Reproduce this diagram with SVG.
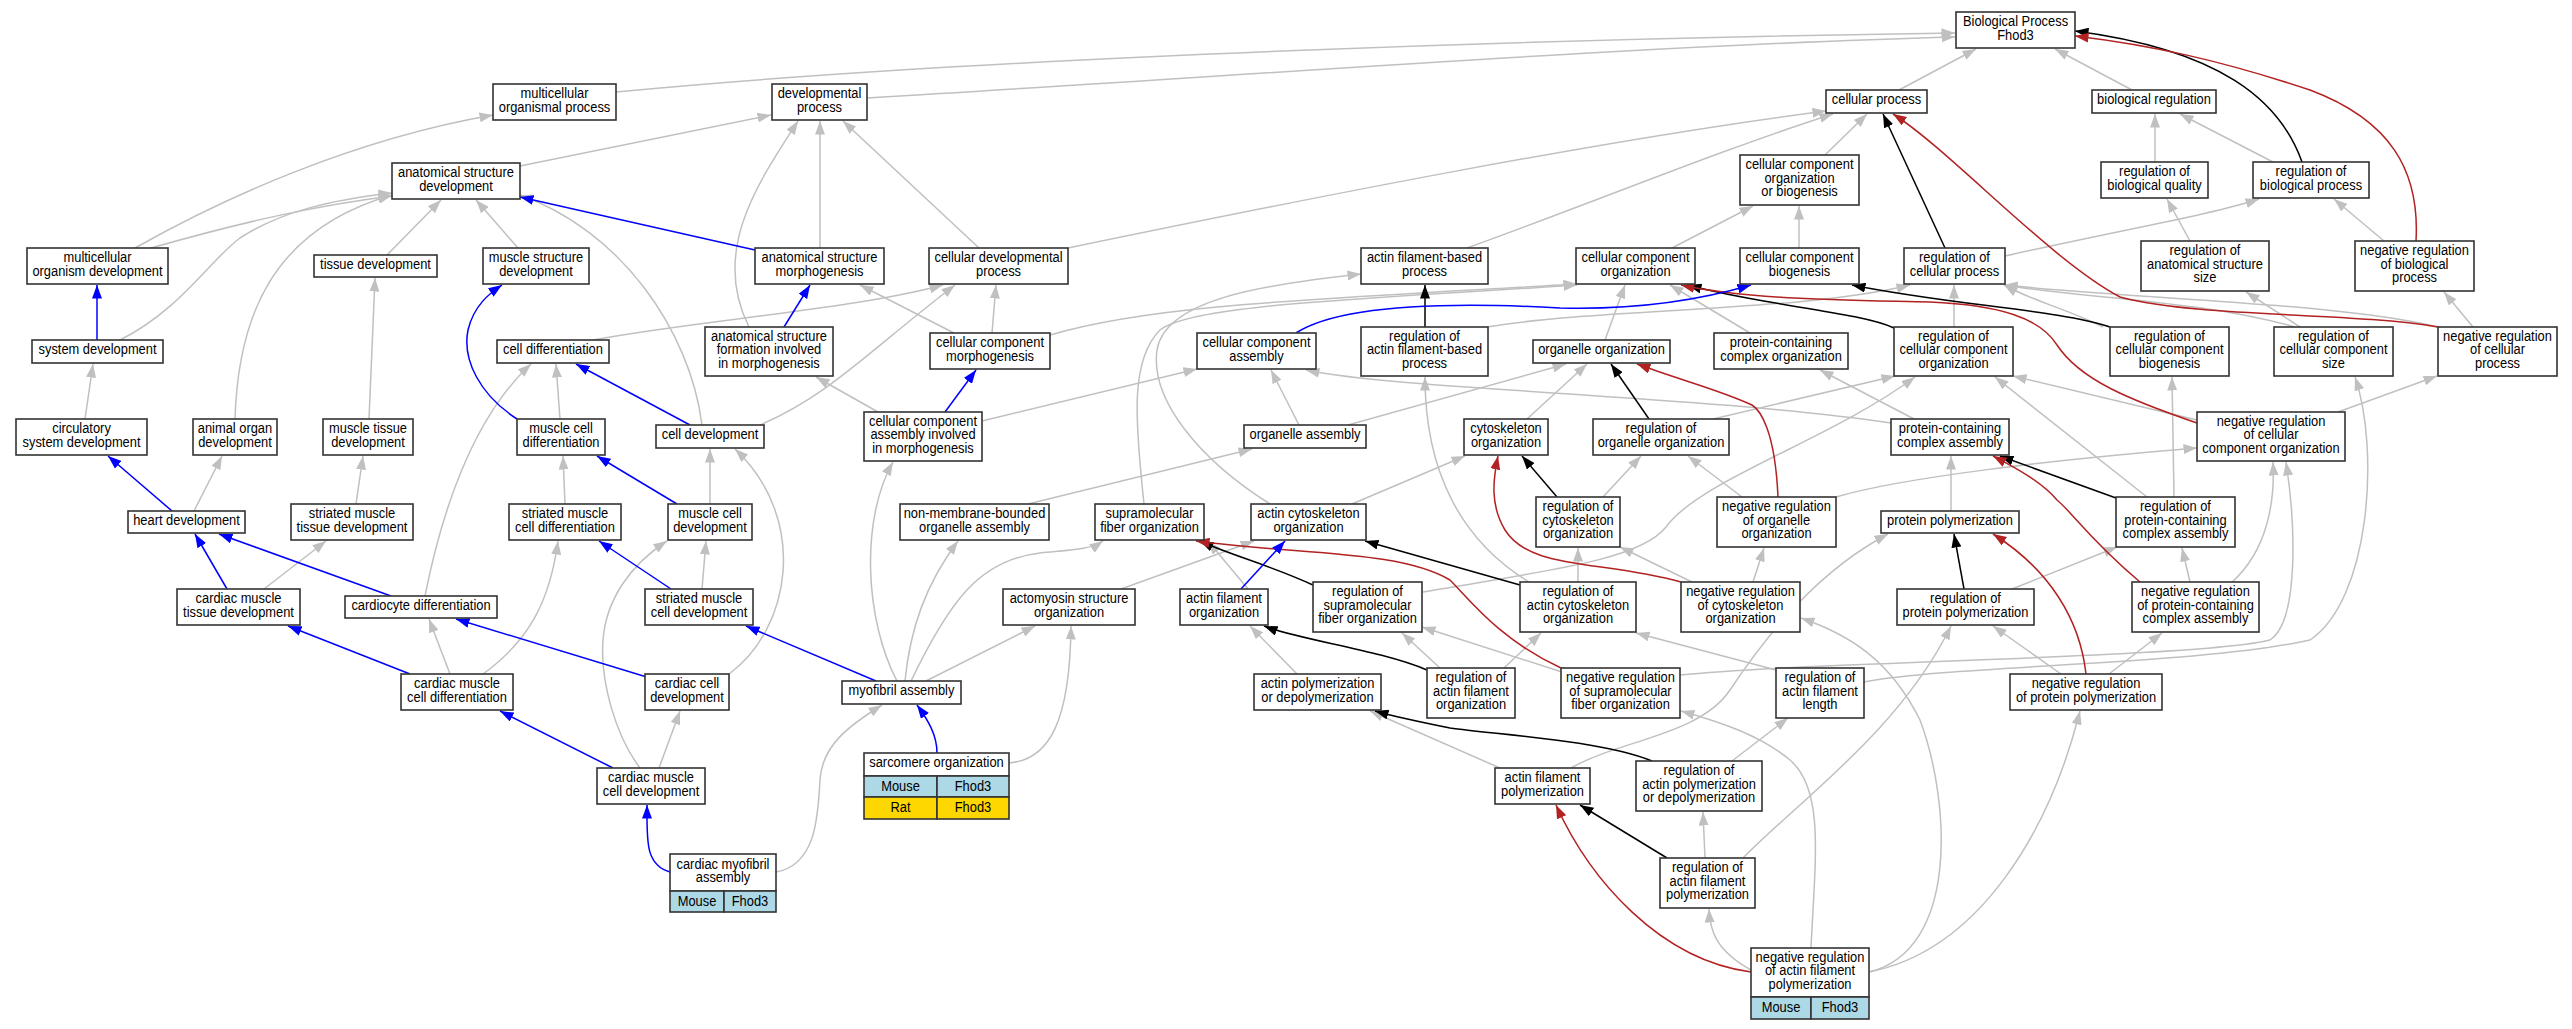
<svg xmlns="http://www.w3.org/2000/svg" width="2572" height="1029" viewBox="0 0 2572 1029">
<style>
.n rect{fill:#fff;stroke:#333;stroke-width:1.6}
.n rect.m{fill:#add8e6}
.n rect.y{fill:#ffd700}
text{font-family:"Liberation Sans",Arial,sans-serif;font-size:14px;text-anchor:middle;fill:#000;transform-box:fill-box;transform-origin:center;transform:scaleX(0.92)}
.e path{fill:none;stroke-width:1.5}
.e .g{stroke:#c0c0c0;marker-end:url(#ag)}
.e .b{stroke:#0000ff;marker-end:url(#ab)}
.e .k{stroke:#000;marker-end:url(#ak)}
.e .r{stroke:#b22222;marker-end:url(#ar)}
</style>
<defs>
<marker id="ag" viewBox="0 0 13.5 10" refX="13.5" refY="5" markerWidth="13.5" markerHeight="10" markerUnits="userSpaceOnUse" orient="auto"><path d="M0,0L13.5,5L0,10z" fill="#c0c0c0"/></marker>
<marker id="ab" viewBox="0 0 13.5 10" refX="13.5" refY="5" markerWidth="13.5" markerHeight="10" markerUnits="userSpaceOnUse" orient="auto"><path d="M0,0L13.5,5L0,10z" fill="#0000ff"/></marker>
<marker id="ak" viewBox="0 0 13.5 10" refX="13.5" refY="5" markerWidth="13.5" markerHeight="10" markerUnits="userSpaceOnUse" orient="auto"><path d="M0,0L13.5,5L0,10z" fill="#000"/></marker>
<marker id="ar" viewBox="0 0 13.5 10" refX="13.5" refY="5" markerWidth="13.5" markerHeight="10" markerUnits="userSpaceOnUse" orient="auto"><path d="M0,0L13.5,5L0,10z" fill="#b22222"/></marker>
</defs>
<rect width="2572" height="1029" fill="#fff"/>
<g id="edges" class="e">
<path class="g" d="M616,92 C1000,55 1600,38 1955,33"/>
<path class="g" d="M867,98 C1300,72 1650,45 1955,37"/>
<path class="g" d="M1899,90 L1976,49"/>
<path class="g" d="M2132,90 L2055,49"/>
<path class="g" d="M520,166 L771,115"/>
<path class="g" d="M135,248 C220,200 350,140 493,115"/>
<path class="g" d="M151,248 C250,220 320,205 392,196"/>
<path class="g" d="M120,340 C180,310 210,260 240,238 C280,212 330,200 392,193"/>
<path class="g" d="M235,419 C238,320 270,230 392,195"/>
<path class="g" d="M387,255 L441,200"/>
<path class="g" d="M518,248 L476,200"/>
<path class="g" d="M702,425 C690,330 620,230 520,195"/>
<path class="g" d="M369,419 L375,278"/>
<path class="g" d="M749,327 C710,250 760,180 798,121"/>
<path class="g" d="M820,248 L820,121"/>
<path class="g" d="M979,248 L843,121"/>
<path class="g" d="M1068,248 C1300,200 1600,140 1826,111"/>
<path class="g" d="M954,333 L860,285"/>
<path class="g" d="M992,333 L996,285"/>
<path class="g" d="M593,340 C700,320 850,310 943,285"/>
<path class="g" d="M760,425 C830,395 870,350 955,285"/>
<path class="g" d="M560,419 L556,364"/>
<path class="g" d="M425,596 C440,520 470,420 531,364"/>
<path class="g" d="M85,419 L93,364"/>
<path class="g" d="M194,511 L222,456"/>
<path class="g" d="M356,504 L363,456"/>
<path class="g" d="M264,589 L326,541"/>
<path class="g" d="M483,674 C530,640 550,600 558,541"/>
<path class="g" d="M450,674 L429,619"/>
<path class="g" d="M565,504 L563,456"/>
<path class="g" d="M702,589 L706,541"/>
<path class="g" d="M710,504 L710,449"/>
<path class="g" d="M729,674 C790,630 810,520 735,449"/>
<path class="g" d="M640,768 C615,735 600,680 603,640 C606,600 630,565 667,541"/>
<path class="g" d="M659,768 L680,711"/>
<path class="g" d="M776,872 C815,865 818,820 820,780 C822,745 850,725 882,705"/>
<path class="g" d="M1009,763 C1050,760 1070,720 1071,626"/>
<path class="g" d="M897,681 C865,620 860,520 893,462"/>
<path class="g" d="M905,681 C910,630 925,585 958,541"/>
<path class="g" d="M911,681 C950,600 980,560 1040,553 C1070,550 1090,550 1103,541"/>
<path class="g" d="M926,681 L1035,626"/>
<path class="g" d="M878,412 L816,377"/>
<path class="g" d="M982,421 L1197,369"/>
<path class="g" d="M1028,504 L1252,449"/>
<path class="g" d="M1299,425 L1271,370"/>
<path class="g" d="M1348,425 L1566,364"/>
<path class="g" d="M1891,423 C1700,395 1400,390 1306,370"/>
<path class="g" d="M1914,419 L1820,370"/>
<path class="g" d="M1527,419 L1587,364"/>
<path class="g" d="M1713,419 L1895,376"/>
<path class="g" d="M1529,582 C1460,540 1425,470 1425,377"/>
<path class="g" d="M1352,504 L1465,456"/>
<path class="g" d="M1603,497 L1641,456"/>
<path class="g" d="M1742,497 L1688,456"/>
<path class="g" d="M1692,582 L1620,547"/>
<path class="g" d="M1753,582 L1764,548"/>
<path class="g" d="M1578,582 L1578,548"/>
<path class="g" d="M1423,592 C1550,570 1640,560 1666,527 C1700,480 1830,440 1915,377"/>
<path class="g" d="M1836,497 C1900,478 2050,460 2197,448"/>
<path class="g" d="M2197,420 L2013,376"/>
<path class="g" d="M2338,412 L2437,376"/>
<path class="g" d="M2147,497 L1995,377"/>
<path class="g" d="M2174,497 L2172,377"/>
<path class="g" d="M1951,511 L1951,456"/>
<path class="g" d="M2190,582 L2182,548"/>
<path class="g" d="M2232,582 C2268,550 2275,500 2273,462"/>
<path class="g" d="M2012,589 L2117,547"/>
<path class="g" d="M2061,674 L1993,626"/>
<path class="g" d="M2109,674 L2162,633"/>
<path class="g" d="M1571,768 C1620,740 1700,735 1730,690 C1770,630 1820,570 1888,534"/>
<path class="g" d="M1751,970 C1715,950 1710,930 1709,909"/>
<path class="g" d="M1811,948 C1815,860 1825,790 1790,760 C1760,735 1720,722 1681,711"/>
<path class="g" d="M1869,972 C1960,950 1950,800 1920,720 C1890,660 1850,635 1801,618"/>
<path class="g" d="M1869,972 C1980,950 2050,830 2080,711"/>
<path class="g" d="M1743,858 C1800,800 1900,730 1951,626"/>
<path class="g" d="M1705,858 L1703,812"/>
<path class="g" d="M1732,761 L1788,718"/>
<path class="g" d="M1776,670 L1636,633"/>
<path class="g" d="M1864,682 C1950,665 2200,665 2310,640 C2370,600 2380,450 2355,377"/>
<path class="g" d="M1680,675 C1800,662 2200,658 2270,640 C2300,620 2295,520 2286,462"/>
<path class="g" d="M1500,768 L1370,711"/>
<path class="g" d="M1297,674 L1250,626"/>
<path class="g" d="M1504,668 L1541,633"/>
<path class="g" d="M1440,668 L1402,633"/>
<path class="g" d="M1562,672 L1422,627"/>
<path class="g" d="M1248,589 L1208,541"/>
<path class="g" d="M1121,589 L1254,541"/>
<path class="g" d="M1825,155 L1867,114"/>
<path class="g" d="M1672,248 L1753,206"/>
<path class="g" d="M1799,248 L1799,206"/>
<path class="g" d="M1605,340 L1625,285"/>
<path class="g" d="M1750,333 L1670,285"/>
<path class="g" d="M1467,248 C1600,200 1720,150 1833,114"/>
<path class="g" d="M1487,327 C1600,308 1800,312 1910,285"/>
<path class="g" d="M1954,327 L1954,285"/>
<path class="g" d="M2103,327 C2070,310 2030,300 2004,285"/>
<path class="g" d="M2295,327 C2200,300 2080,298 2004,285"/>
<path class="g" d="M2438,327 C2340,303 2150,300 2004,285"/>
<path class="g" d="M2155,162 L2155,114"/>
<path class="g" d="M2273,162 L2180,114"/>
<path class="g" d="M2005,256 C2120,230 2210,215 2259,199"/>
<path class="g" d="M2190,241 L2167,199"/>
<path class="g" d="M2384,241 L2334,199"/>
<path class="g" d="M2473,327 L2444,292"/>
<path class="g" d="M2300,327 L2246,292"/>
<path class="g" d="M1050,335 C1150,305 1300,300 1577,284"/>
<path class="g" d="M1144,504 C1135,420 1130,360 1160,330 C1190,305 1350,300 1577,285"/>
<path class="g" d="M1270,504 C1200,460 1150,400 1157,350 C1165,300 1260,285 1361,274"/>
<path class="k" d="M2302,162 C2280,100 2220,50 2075,31"/>
<path class="k" d="M1945,248 L1883,114"/>
<path class="k" d="M1894,328 C1860,312 1760,305 1688,285"/>
<path class="k" d="M2110,327 C2060,310 1950,305 1852,285"/>
<path class="k" d="M1425,327 L1425,285"/>
<path class="k" d="M1649,419 L1611,364"/>
<path class="k" d="M1557,497 L1522,456"/>
<path class="k" d="M1520,585 L1365,541"/>
<path class="k" d="M1313,585 C1270,565 1230,555 1200,541"/>
<path class="k" d="M1427,670 C1380,650 1300,640 1264,626"/>
<path class="k" d="M2116,498 L2000,456"/>
<path class="k" d="M1964,589 L1954,534"/>
<path class="k" d="M1652,761 C1600,740 1500,735 1450,728 C1420,722 1400,718 1375,711"/>
<path class="k" d="M1667,858 L1580,805"/>
<path class="r" d="M2416,241 C2420,170 2390,120 2310,90 C2220,60 2150,45 2075,36"/>
<path class="r" d="M2438,327 C2350,312 2200,318 2120,297 C2050,260 1950,150 1893,114"/>
<path class="r" d="M2197,423 C2130,400 2080,380 2057,345 C2040,318 2000,305 1930,302 C1850,300 1750,300 1681,285"/>
<path class="r" d="M1778,497 C1775,430 1760,410 1752,405 C1720,390 1680,380 1637,364"/>
<path class="r" d="M1681,582 C1600,560 1530,570 1505,530 C1490,505 1493,480 1498,456"/>
<path class="r" d="M1561,668 C1500,640 1470,600 1450,580 C1400,550 1300,555 1196,541"/>
<path class="r" d="M2140,582 C2090,540 2070,510 2057,500 C2040,480 2010,465 1993,456"/>
<path class="r" d="M2086,674 C2080,620 2050,570 1993,534"/>
<path class="r" d="M1751,972 C1660,960 1590,880 1556,805"/>
<path class="b" d="M97,340 L97,285"/>
<path class="b" d="M755,250 L520,197"/>
<path class="b" d="M517,419 C480,395 462,360 468,330 C474,305 490,293 502,285"/>
<path class="b" d="M784,327 L810,285"/>
<path class="b" d="M945,412 L976,370"/>
<path class="b" d="M690,425 L576,364"/>
<path class="b" d="M677,504 L597,456"/>
<path class="b" d="M172,511 L108,456"/>
<path class="b" d="M227,589 L195,534"/>
<path class="b" d="M391,596 L219,534"/>
<path class="b" d="M410,674 L288,626"/>
<path class="b" d="M650,678 L456,619"/>
<path class="b" d="M671,589 L599,541"/>
<path class="b" d="M613,768 L500,711"/>
<path class="b" d="M670,872 C645,865 647,840 647,805"/>
<path class="b" d="M937,753 C937,735 928,720 917,705"/>
<path class="b" d="M876,681 L746,626"/>
<path class="b" d="M1296,333 C1340,305 1450,302 1560,308 C1640,310 1700,300 1751,285"/>
<path class="b" d="M1241,589 L1285,541"/>
</g>
<g id="bp" class="n"><rect x="1956" y="12" width="119" height="36"/><text x="2015.5" y="26.25">Biological Process</text><text x="2015.5" y="39.75">Fhod3</text></g>
<g id="mop" class="n"><rect x="493" y="84" width="123" height="36"/><text x="554.5" y="98.25">multicellular</text><text x="554.5" y="111.75">organismal process</text></g>
<g id="dp" class="n"><rect x="772" y="84" width="95" height="36"/><text x="819.5" y="98.25">developmental</text><text x="819.5" y="111.75">process</text></g>
<g id="cp" class="n"><rect x="1826" y="90" width="101" height="23"/><text x="1876.5" y="104.5">cellular process</text></g>
<g id="br" class="n"><rect x="2092" y="90" width="124" height="23"/><text x="2154" y="104.5">biological regulation</text></g>
<g id="asd" class="n"><rect x="392" y="163" width="128" height="36"/><text x="456" y="177.25">anatomical structure</text><text x="456" y="190.75">development</text></g>
<g id="ccob" class="n"><rect x="1740" y="155" width="119" height="50"/><text x="1799.5" y="169.5">cellular component</text><text x="1799.5" y="183">organization</text><text x="1799.5" y="196.5">or biogenesis</text></g>
<g id="rbq" class="n"><rect x="2101" y="162" width="107" height="36"/><text x="2154.5" y="176.25">regulation of</text><text x="2154.5" y="189.75">biological quality</text></g>
<g id="rbp" class="n"><rect x="2253" y="162" width="116" height="36"/><text x="2311" y="176.25">regulation of</text><text x="2311" y="189.75">biological process</text></g>
<g id="mod" class="n"><rect x="27" y="248" width="141" height="36"/><text x="97.5" y="262.25">multicellular</text><text x="97.5" y="275.75">organism development</text></g>
<g id="td" class="n"><rect x="314" y="255" width="123" height="22"/><text x="375.5" y="269">tissue development</text></g>
<g id="msd" class="n"><rect x="483" y="248" width="106" height="36"/><text x="536" y="262.25">muscle structure</text><text x="536" y="275.75">development</text></g>
<g id="asm" class="n"><rect x="755" y="248" width="129" height="36"/><text x="819.5" y="262.25">anatomical structure</text><text x="819.5" y="275.75">morphogenesis</text></g>
<g id="cdp" class="n"><rect x="929" y="248" width="139" height="36"/><text x="998.5" y="262.25">cellular developmental</text><text x="998.5" y="275.75">process</text></g>
<g id="afbp" class="n"><rect x="1361" y="248" width="127" height="36"/><text x="1424.5" y="262.25">actin filament-based</text><text x="1424.5" y="275.75">process</text></g>
<g id="cco" class="n"><rect x="1576" y="248" width="119" height="36"/><text x="1635.5" y="262.25">cellular component</text><text x="1635.5" y="275.75">organization</text></g>
<g id="ccb" class="n"><rect x="1740" y="248" width="119" height="36"/><text x="1799.5" y="262.25">cellular component</text><text x="1799.5" y="275.75">biogenesis</text></g>
<g id="rcp" class="n"><rect x="1904" y="248" width="101" height="36"/><text x="1954.5" y="262.25">regulation of</text><text x="1954.5" y="275.75">cellular process</text></g>
<g id="rass" class="n"><rect x="2141" y="241" width="128" height="50"/><text x="2205" y="255.5">regulation of</text><text x="2205" y="269">anatomical structure</text><text x="2205" y="282.5">size</text></g>
<g id="nrbp" class="n"><rect x="2355" y="241" width="119" height="50"/><text x="2414.5" y="255.5">negative regulation</text><text x="2414.5" y="269">of biological</text><text x="2414.5" y="282.5">process</text></g>
<g id="sd" class="n"><rect x="32" y="340" width="131" height="23"/><text x="97.5" y="354.5">system development</text></g>
<g id="cdiff" class="n"><rect x="497" y="340" width="112" height="23"/><text x="553" y="354.5">cell differentiation</text></g>
<g id="asf" class="n"><rect x="705" y="327" width="128" height="49"/><text x="769" y="341">anatomical structure</text><text x="769" y="354.5">formation involved</text><text x="769" y="368">in morphogenesis</text></g>
<g id="ccm" class="n"><rect x="930" y="333" width="120" height="36"/><text x="990" y="347.25">cellular component</text><text x="990" y="360.75">morphogenesis</text></g>
<g id="ca" class="n"><rect x="1197" y="333" width="119" height="36"/><text x="1256.5" y="347.25">cellular component</text><text x="1256.5" y="360.75">assembly</text></g>
<g id="rafbp" class="n"><rect x="1361" y="327" width="127" height="49"/><text x="1424.5" y="341">regulation of</text><text x="1424.5" y="354.5">actin filament-based</text><text x="1424.5" y="368">process</text></g>
<g id="oo" class="n"><rect x="1533" y="340" width="137" height="23"/><text x="1601.5" y="354.5">organelle organization</text></g>
<g id="pcco" class="n"><rect x="1714" y="333" width="134" height="36"/><text x="1781" y="347.25">protein-containing</text><text x="1781" y="360.75">complex organization</text></g>
<g id="rcco" class="n"><rect x="1894" y="327" width="119" height="49"/><text x="1953.5" y="341">regulation of</text><text x="1953.5" y="354.5">cellular component</text><text x="1953.5" y="368">organization</text></g>
<g id="rccb" class="n"><rect x="2110" y="327" width="119" height="49"/><text x="2169.5" y="341">regulation of</text><text x="2169.5" y="354.5">cellular component</text><text x="2169.5" y="368">biogenesis</text></g>
<g id="rccs" class="n"><rect x="2274" y="327" width="119" height="49"/><text x="2333.5" y="341">regulation of</text><text x="2333.5" y="354.5">cellular component</text><text x="2333.5" y="368">size</text></g>
<g id="nrcp" class="n"><rect x="2438" y="327" width="119" height="49"/><text x="2497.5" y="341">negative regulation</text><text x="2497.5" y="354.5">of cellular</text><text x="2497.5" y="368">process</text></g>
<g id="csd" class="n"><rect x="16" y="419" width="131" height="36"/><text x="81.5" y="433.25">circulatory</text><text x="81.5" y="446.75">system development</text></g>
<g id="aod" class="n"><rect x="193" y="419" width="84" height="36"/><text x="235" y="433.25">animal organ</text><text x="235" y="446.75">development</text></g>
<g id="mtd" class="n"><rect x="323" y="419" width="90" height="36"/><text x="368" y="433.25">muscle tissue</text><text x="368" y="446.75">development</text></g>
<g id="mcdiff" class="n"><rect x="517" y="419" width="88" height="36"/><text x="561" y="433.25">muscle cell</text><text x="561" y="446.75">differentiation</text></g>
<g id="cdev" class="n"><rect x="656" y="425" width="108" height="23"/><text x="710" y="439.5">cell development</text></g>
<g id="ccaim" class="n"><rect x="864" y="412" width="118" height="49"/><text x="923" y="426">cellular component</text><text x="923" y="439.5">assembly involved</text><text x="923" y="453">in morphogenesis</text></g>
<g id="oa" class="n"><rect x="1244" y="425" width="122" height="23"/><text x="1305" y="439.5">organelle assembly</text></g>
<g id="csko" class="n"><rect x="1464" y="419" width="84" height="36"/><text x="1506" y="433.25">cytoskeleton</text><text x="1506" y="446.75">organization</text></g>
<g id="roo" class="n"><rect x="1593" y="419" width="136" height="36"/><text x="1661" y="433.25">regulation of</text><text x="1661" y="446.75">organelle organization</text></g>
<g id="pcca" class="n"><rect x="1891" y="419" width="118" height="36"/><text x="1950" y="433.25">protein-containing</text><text x="1950" y="446.75">complex assembly</text></g>
<g id="nrcco" class="n"><rect x="2197" y="412" width="148" height="49"/><text x="2271" y="426">negative regulation</text><text x="2271" y="439.5">of cellular</text><text x="2271" y="453">component organization</text></g>
<g id="hd" class="n"><rect x="128" y="511" width="117" height="22"/><text x="186.5" y="525">heart development</text></g>
<g id="smtd" class="n"><rect x="291" y="504" width="122" height="36"/><text x="352" y="518.25">striated muscle</text><text x="352" y="531.75">tissue development</text></g>
<g id="smcd" class="n"><rect x="509" y="504" width="112" height="36"/><text x="565" y="518.25">striated muscle</text><text x="565" y="531.75">cell differentiation</text></g>
<g id="mcdev" class="n"><rect x="668" y="504" width="84" height="36"/><text x="710" y="518.25">muscle cell</text><text x="710" y="531.75">development</text></g>
<g id="nmboa" class="n"><rect x="900" y="504" width="149" height="36"/><text x="974.5" y="518.25">non-membrane-bounded</text><text x="974.5" y="531.75">organelle assembly</text></g>
<g id="sfo" class="n"><rect x="1095" y="504" width="109" height="36"/><text x="1149.5" y="518.25">supramolecular</text><text x="1149.5" y="531.75">fiber organization</text></g>
<g id="aco" class="n"><rect x="1251" y="504" width="115" height="36"/><text x="1308.5" y="518.25">actin cytoskeleton</text><text x="1308.5" y="531.75">organization</text></g>
<g id="rcsko" class="n"><rect x="1536" y="497" width="84" height="50"/><text x="1578" y="511.5">regulation of</text><text x="1578" y="525">cytoskeleton</text><text x="1578" y="538.5">organization</text></g>
<g id="nroo" class="n"><rect x="1717" y="497" width="119" height="50"/><text x="1776.5" y="511.5">negative regulation</text><text x="1776.5" y="525">of organelle</text><text x="1776.5" y="538.5">organization</text></g>
<g id="pp" class="n"><rect x="1881" y="511" width="138" height="22"/><text x="1950" y="525">protein polymerization</text></g>
<g id="rpcca" class="n"><rect x="2116" y="497" width="119" height="50"/><text x="2175.5" y="511.5">regulation of</text><text x="2175.5" y="525">protein-containing</text><text x="2175.5" y="538.5">complex assembly</text></g>
<g id="cmtd" class="n"><rect x="177" y="589" width="123" height="36"/><text x="238.5" y="603.25">cardiac muscle</text><text x="238.5" y="616.75">tissue development</text></g>
<g id="cardio" class="n"><rect x="345" y="596" width="152" height="22"/><text x="421" y="610">cardiocyte differentiation</text></g>
<g id="smcdev" class="n"><rect x="645" y="589" width="108" height="36"/><text x="699" y="603.25">striated muscle</text><text x="699" y="616.75">cell development</text></g>
<g id="amso" class="n"><rect x="1003" y="589" width="132" height="36"/><text x="1069" y="603.25">actomyosin structure</text><text x="1069" y="616.75">organization</text></g>
<g id="afo" class="n"><rect x="1180" y="589" width="88" height="36"/><text x="1224" y="603.25">actin filament</text><text x="1224" y="616.75">organization</text></g>
<g id="rsfo" class="n"><rect x="1313" y="582" width="109" height="50"/><text x="1367.5" y="596.5">regulation of</text><text x="1367.5" y="610">supramolecular</text><text x="1367.5" y="623.5">fiber organization</text></g>
<g id="raco" class="n"><rect x="1520" y="582" width="116" height="50"/><text x="1578" y="596.5">regulation of</text><text x="1578" y="610">actin cytoskeleton</text><text x="1578" y="623.5">organization</text></g>
<g id="nrcsko" class="n"><rect x="1681" y="582" width="119" height="50"/><text x="1740.5" y="596.5">negative regulation</text><text x="1740.5" y="610">of cytoskeleton</text><text x="1740.5" y="623.5">organization</text></g>
<g id="rpp" class="n"><rect x="1897" y="589" width="137" height="36"/><text x="1965.5" y="603.25">regulation of</text><text x="1965.5" y="616.75">protein polymerization</text></g>
<g id="nrpcca" class="n"><rect x="2132" y="582" width="127" height="50"/><text x="2195.5" y="596.5">negative regulation</text><text x="2195.5" y="610">of protein-containing</text><text x="2195.5" y="623.5">complex assembly</text></g>
<g id="cmcd" class="n"><rect x="401" y="674" width="112" height="36"/><text x="457" y="688.25">cardiac muscle</text><text x="457" y="701.75">cell differentiation</text></g>
<g id="ccd" class="n"><rect x="645" y="674" width="84" height="36"/><text x="687" y="688.25">cardiac cell</text><text x="687" y="701.75">development</text></g>
<g id="mfa" class="n"><rect x="842" y="681" width="119" height="23"/><text x="901.5" y="695.5">myofibril assembly</text></g>
<g id="apd" class="n"><rect x="1254" y="674" width="127" height="36"/><text x="1317.5" y="688.25">actin polymerization</text><text x="1317.5" y="701.75">or depolymerization</text></g>
<g id="rafo" class="n"><rect x="1427" y="668" width="88" height="50"/><text x="1471" y="682.5">regulation of</text><text x="1471" y="696">actin filament</text><text x="1471" y="709.5">organization</text></g>
<g id="nrsfo" class="n"><rect x="1561" y="668" width="119" height="50"/><text x="1620.5" y="682.5">negative regulation</text><text x="1620.5" y="696">of supramolecular</text><text x="1620.5" y="709.5">fiber organization</text></g>
<g id="raflen" class="n"><rect x="1776" y="668" width="88" height="50"/><text x="1820" y="682.5">regulation of</text><text x="1820" y="696">actin filament</text><text x="1820" y="709.5">length</text></g>
<g id="nrpp" class="n"><rect x="2010" y="674" width="152" height="36"/><text x="2086" y="688.25">negative regulation</text><text x="2086" y="701.75">of protein polymerization</text></g>
<g id="cmcdev" class="n"><rect x="597" y="768" width="108" height="36"/><text x="651" y="782.25">cardiac muscle</text><text x="651" y="795.75">cell development</text></g>
<g id="sarc" class="n"><rect x="864" y="753" width="145" height="23"/><text x="936.5" y="767.5">sarcomere organization</text><rect class="m" x="864" y="776" width="73" height="21"/><text x="900.5" y="791">Mouse</text><rect class="m" x="937" y="776" width="72" height="21"/><text x="973" y="791">Fhod3</text><rect class="y" x="864" y="797" width="73" height="22"/><text x="900.5" y="812.5">Rat</text><rect class="y" x="937" y="797" width="72" height="22"/><text x="973" y="812.5">Fhod3</text></g>
<g id="afp" class="n"><rect x="1495" y="768" width="95" height="36"/><text x="1542.5" y="782.25">actin filament</text><text x="1542.5" y="795.75">polymerization</text></g>
<g id="rapd" class="n"><rect x="1636" y="761" width="126" height="50"/><text x="1699" y="775.5">regulation of</text><text x="1699" y="789">actin polymerization</text><text x="1699" y="802.5">or depolymerization</text></g>
<g id="cmfa" class="n"><rect x="670" y="854" width="106" height="37"/><text x="723" y="868.75">cardiac myofibril</text><text x="723" y="882.25">assembly</text><rect class="m" x="670" y="891" width="54" height="21"/><text x="697" y="906">Mouse</text><rect class="m" x="724" y="891" width="52" height="21"/><text x="750" y="906">Fhod3</text></g>
<g id="rafp" class="n"><rect x="1660" y="858" width="95" height="50"/><text x="1707.5" y="872.5">regulation of</text><text x="1707.5" y="886">actin filament</text><text x="1707.5" y="899.5">polymerization</text></g>
<g id="nrafp" class="n"><rect x="1751" y="948" width="118" height="49"/><text x="1810" y="962">negative regulation</text><text x="1810" y="975.5">of actin filament</text><text x="1810" y="989">polymerization</text><rect class="m" x="1751" y="997" width="60" height="22"/><text x="1781" y="1012.5">Mouse</text><rect class="m" x="1811" y="997" width="58" height="22"/><text x="1840" y="1012.5">Fhod3</text></g>
</svg>
